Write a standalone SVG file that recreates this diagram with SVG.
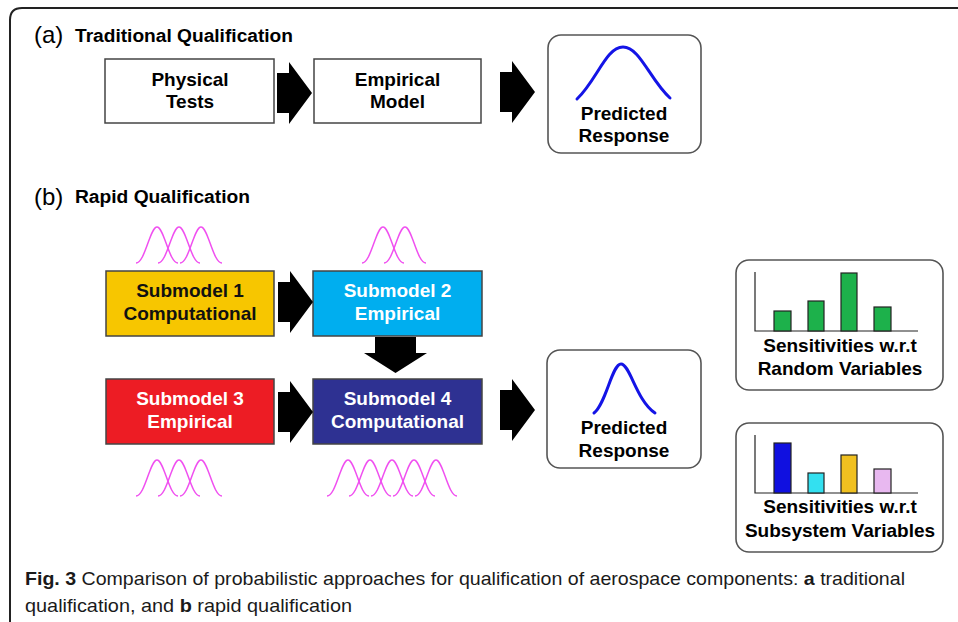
<svg xmlns="http://www.w3.org/2000/svg" xmlns:xlink="http://www.w3.org/1999/xlink" width="958" height="622" viewBox="0 0 958 622">
<style>
.frame{fill:none;stroke:#222;stroke-width:2}
.box{stroke:#444;stroke-width:1.5}
.rbox{fill:#fff;stroke:#555;stroke-width:1.6}
.lbl{font-family:"Liberation Sans",Arial,sans-serif;font-weight:bold;font-size:19px;text-anchor:middle}
.hdr{font-family:"Liberation Sans",Arial,sans-serif;font-weight:bold;font-size:18px}
.tag{font-family:"Liberation Sans",Arial,sans-serif;font-size:24px}
.cap{font-family:"Liberation Sans",Arial,sans-serif;font-size:19px;fill:#1a1a1a}
.arrow{fill:#000}
.bell{fill:none;stroke:#F050F0;stroke-width:1.5}
.resp{fill:none;stroke:#1414E6;stroke-width:3;stroke-linecap:round}
.axis{fill:none;stroke:#222;stroke-width:1.2}
.bar{stroke:#222;stroke-width:1.2}
</style>
<defs>
<path id="rarrow" d="M0,-20 H12 V-31 L35,0 L12,31 V20 H0 Z"/>
<path id="bell" d="M-21,0 C-12,0 -7,-36 0,-36 C7,-36 12,0 21,0"/>
</defs>
<path class="frame" d="M10,622 V20 Q10,8 22,8 H958"/>

<text class="tag" x="34" y="43">(a)</text>
<text class="hdr" x="75" y="42" textLength="218" lengthAdjust="spacingAndGlyphs">Traditional Qualification</text>
<text class="tag" x="34" y="205">(b)</text>
<text class="hdr" x="75" y="203" textLength="175" lengthAdjust="spacingAndGlyphs">Rapid Qualification</text>

<g id="physical-tests">
<rect class="box" x="105" y="59" width="169" height="64" fill="#fff"/>
<text class="lbl" x="190" y="86">Physical</text>
<text class="lbl" x="190" y="108">Tests</text>
</g>
<g id="empirical-model">
<rect class="box" x="314" y="59" width="167" height="64" fill="#fff"/>
<text class="lbl" x="397.5" y="86">Empirical</text>
<text class="lbl" x="397.5" y="108">Model</text>
</g>
<g id="predicted-response-a">
<rect class="rbox" x="548" y="35" width="153" height="118" rx="13"/>
<path class="resp" d="M577,99 C597,80 606,47 623,47 C640,47 650,80 670,98"/>
<text class="lbl" x="624" y="120">Predicted</text>
<text class="lbl" x="624" y="142">Response</text>
</g>

<g id="submodel-1">
<rect class="box" x="106" y="271" width="168" height="65" fill="#F7C600"/>
<text class="lbl" x="190" y="297" fill="#111">Submodel 1</text>
<text class="lbl" x="190" y="320" fill="#111">Computational</text>
<g class="bell"><use href="#bell" x="157" y="263"/><use href="#bell" x="179" y="263"/><use href="#bell" x="201" y="263"/></g>
</g>
<g id="submodel-2">
<rect class="box" x="313" y="271" width="169" height="65" fill="#00AEEF"/>
<text class="lbl" x="397.5" y="297" fill="#fff">Submodel 2</text>
<text class="lbl" x="397.5" y="320" fill="#fff">Empirical</text>
<g class="bell"><use href="#bell" x="383" y="263"/><use href="#bell" x="405" y="263"/></g>
</g>
<g id="submodel-3">
<rect class="box" x="106" y="379" width="168" height="65" fill="#ED1C24"/>
<text class="lbl" x="190" y="405" fill="#fff">Submodel 3</text>
<text class="lbl" x="190" y="428" fill="#fff">Empirical</text>
<g class="bell"><use href="#bell" x="157" y="496"/><use href="#bell" x="179" y="496"/><use href="#bell" x="201" y="496"/></g>
</g>
<g id="submodel-4">
<rect class="box" x="313" y="379" width="169" height="65" fill="#2E3192"/>
<text class="lbl" x="397.5" y="405" fill="#fff">Submodel 4</text>
<text class="lbl" x="397.5" y="428" fill="#fff">Computational</text>
<g class="bell"><use href="#bell" x="348" y="496"/><use href="#bell" x="370" y="496"/><use href="#bell" x="392" y="496"/><use href="#bell" x="414" y="496"/><use href="#bell" x="436" y="496"/></g>
</g>
<g id="predicted-response-b">
<rect class="rbox" x="547" y="350" width="154" height="118" rx="13"/>
<path class="resp" d="M594,413 C606,404 612,364 621,364 C630,364 636,400 655,413"/>
<text class="lbl" x="624" y="434">Predicted</text>
<text class="lbl" x="624" y="457">Response</text>
</g>

<g id="sens-random">
<rect class="rbox" x="736" y="260" width="207" height="130" rx="13"/>
<path class="axis" d="M755,272 V331 H918"/>
<rect class="bar" x="774" y="311" width="17" height="20" fill="#1DB14B"/>
<rect class="bar" x="808" y="301" width="16" height="30" fill="#1DB14B"/>
<rect class="bar" x="841" y="273" width="16" height="58" fill="#1DB14B"/>
<rect class="bar" x="874" y="307" width="17" height="24" fill="#1DB14B"/>
<text class="lbl" x="840" y="352">Sensitivities w.r.t</text>
<text class="lbl" x="840" y="375">Random Variables</text>
</g>
<g id="sens-subsystem">
<rect class="rbox" x="736" y="423" width="207" height="129" rx="13"/>
<path class="axis" d="M755,435 V493 H918"/>
<rect class="bar" x="774" y="443" width="17" height="50" fill="#1010E0"/>
<rect class="bar" x="808" y="473" width="16" height="20" fill="#33E0F0"/>
<rect class="bar" x="841" y="455" width="16" height="38" fill="#F0C020"/>
<rect class="bar" x="874" y="469" width="17" height="24" fill="#E8B8F0"/>
<text class="lbl" x="840" y="513">Sensitivities w.r.t</text>
<text class="lbl" x="840" y="537">Subsystem Variables</text>
</g>

<g id="connectors">
<use class="arrow" href="#rarrow" x="277" y="93"/>
<use class="arrow" href="#rarrow" x="500" y="92"/>
<use class="arrow" href="#rarrow" x="278" y="302"/>
<use class="arrow" href="#rarrow" x="278" y="412"/>
<use class="arrow" href="#rarrow" x="500" y="410"/>
<path class="arrow" d="M375,337 H416 V353 H427 L395.5,373 L364,353 H375 Z"/>
</g>

<text class="cap" x="25" y="585" textLength="880" lengthAdjust="spacingAndGlyphs"><tspan font-weight="bold">Fig. 3</tspan> Comparison of probabilistic approaches for qualification of aerospace components: <tspan font-weight="bold">a</tspan> traditional</text>
<text class="cap" x="25" y="612" textLength="327" lengthAdjust="spacingAndGlyphs">qualification, and <tspan font-weight="bold">b</tspan> rapid qualification</text>
</svg>
